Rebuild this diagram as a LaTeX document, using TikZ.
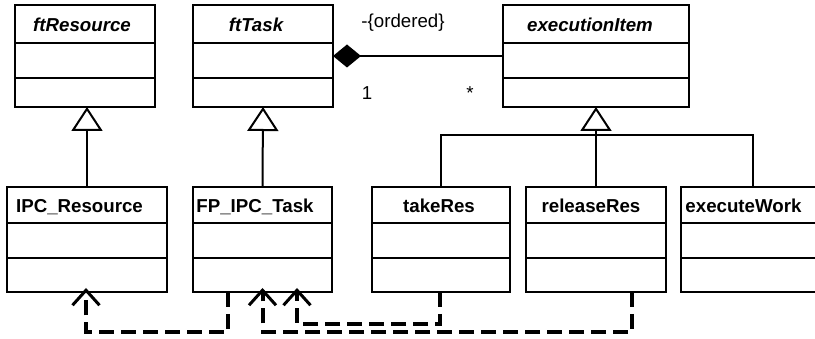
\documentclass[tikz,border=0pt]{standalone}
\usepackage{fontspec}
\setmainfont{Liberation Sans}
\usetikzlibrary{arrows.meta}

\begin{document}
\begin{tikzpicture}[x=1pt, y=-1pt, line width=2pt,
		classbox/.style={draw, line width=2pt, outer sep=0pt, inner sep=0pt},
		title/.style={anchor=base, inner sep=0pt, font=\fontsize{18.7}{22}\selectfont\bfseries},
		abstract/.style={title, font=\fontsize{18.7}{22}\selectfont\bfseries\itshape},
		note/.style={anchor=base, inner sep=0pt, font=\fontsize{18.7}{22}\selectfont},
		inherit/.style={-{Triangle[open, length=24pt, width=31pt]}},
		depends/.style={line width=4pt, dash pattern=on 15pt off 7pt, -{Straight Barb[length=15pt, width=27pt, line width=3pt]}}]
		\useasboundingbox (0,0) rectangle (815,339);
		
		% abstract classes
		\node[classbox, minimum width=140, minimum height=102] (ftres) at (85,56) {};
		\node[classbox, minimum width=140, minimum height=102] (fttask) at (263,56) {};
		\node[classbox, minimum width=186, minimum height=102] (execitem) at (596,56) {};
		\foreach \b in {ftres, fttask, execitem}
			\draw (\b.west |- 0,43) -- (\b.east |- 0,43) (\b.west |- 0,78) -- (\b.east |- 0,78);
		\node[abstract] (ftresname) at (82,32) {ftResource};
		\node[abstract] (fttaskname) at (256,32) {ftTask};
		\node[abstract] (execitemname) at (590,32) {executionItem};
		
		% concrete classes
		\node[classbox, minimum width=160, minimum height=105] (ipcres) at (87,239.5) {};
		\node[classbox, minimum width=139, minimum height=105] (fptask) at (262.5,239.5) {};
		\node[classbox, minimum width=138, minimum height=105] (takeres) at (441,239.5) {};
		\node[classbox, minimum width=140, minimum height=105] (relres) at (596,239.5) {};
		\node[classbox, minimum width=144, minimum height=105] (execwork) at (753,239.5) {};
		\foreach \b in {ipcres, fptask, takeres, relres, execwork}
			\draw (\b.west |- 0,223) -- (\b.east |- 0,223) (\b.west |- 0,258) -- (\b.east |- 0,258);
		\node[title] (ipcresname) at (79.5,213) {IPC\_Resource};
		\node[title] (fptaskname) at (255,213) {FP\_IPC\_Task};
		\node[title] (takeresname) at (439,213) {takeRes};
		\node[title] (relresname) at (591,213) {releaseRes};
		\node[title] (execworkname) at (743.5,213) {executeWork};
		
		% composition
		\draw[-{Diamond[length=28pt, width=23pt]}] (execitem.west) -- (fttask.east);
		\node[note] (ordered) at (403,28) {-\{ordered\}};
		\node[note] (one) at (367,100) {1};
		\node[note] (many) at (470,100) {*};
		
		% generalisation
		\draw[inherit] (ipcres.north) -- (ftres.south -| ipcres.north);
		\draw[inherit] (fptask.north) -- (fttask.south);
		\coordinate (join) at (596,135);
		\draw (takeres.north) |- (join) -| (execwork.north);
		\draw (relres.north) -- (join);
		\draw[inherit] (join) -- (execitem.south);
		
		% dependencies
		\draw[depends] ([xshift=-35pt]fptask.south) -- ++(0,40) -| ([xshift=-1pt,yshift=4pt]ipcres.south);
		\draw[depends] ([xshift=-1pt]takeres.south) -- ++(0,32) -| ([xshift=34.5pt,yshift=4pt]fptask.south);
		\draw[depends] ([xshift=36pt]relres.south) -- ++(0,40) -| ([yshift=4pt]fptask.south);
	\end{tikzpicture}
\end{document}
